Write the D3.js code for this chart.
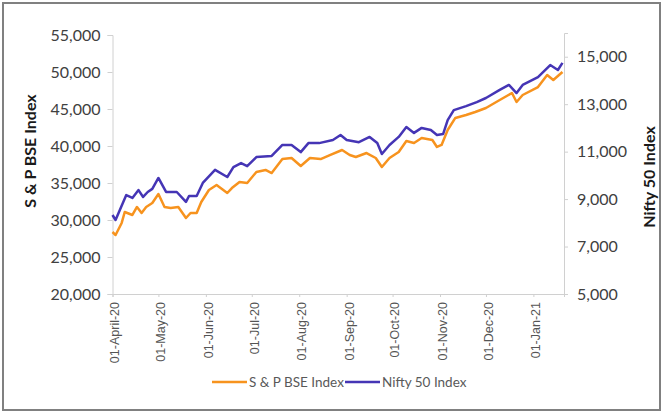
<!DOCTYPE html>
<html>
<head>
<meta charset="utf-8">
<script src="https://cdn.jsdelivr.net/npm/d3@7"></script>
<style>
  body { margin: 0; background: #fff; }
  .frame text { font-family: Lato, "Open Sans", sans-serif; }
</style>
</head>
<body>
<div id="vis1"></div>
<script>
const FRAME_HEIGHT = 413;
const FRAME_WIDTH = 663;
const MARGINS = {left: 112.5, right: 99, top: 33, bottom: 119};

const VIS_HEIGHT = FRAME_HEIGHT - MARGINS.top - MARGINS.bottom;
const VIS_WIDTH = FRAME_WIDTH - MARGINS.left - MARGINS.right;

// S & P BSE Index (left axis)
const bseDates = ["2020-04-01","2020-04-03","2020-04-07","2020-04-09","2020-04-14","2020-04-17",
  "2020-04-20","2020-04-23","2020-04-27","2020-05-01","2020-05-05","2020-05-09","2020-05-14",
  "2020-05-19","2020-05-22","2020-05-26","2020-05-29","2020-06-03","2020-06-08","2020-06-15",
  "2020-06-18","2020-06-23","2020-06-28","2020-07-04","2020-07-10","2020-07-14","2020-07-21",
  "2020-07-27","2020-08-02","2020-08-08","2020-08-15","2020-08-21","2020-08-29","2020-09-03",
  "2020-09-07","2020-09-14","2020-09-20","2020-09-24","2020-09-29","2020-10-05","2020-10-10",
  "2020-10-15","2020-10-20","2020-10-27","2020-10-30","2020-11-02","2020-11-06","2020-11-11",
  "2020-11-18","2020-11-24","2020-12-01","2020-12-10","2020-12-18","2020-12-21","2020-12-25",
  "2021-01-04","2021-01-10","2021-01-14","2021-01-20"];
const bseValues = [28380,27970,29600,31080,30680,31760,
  30950,31760,32300,33510,31760,31620,31760,
  30270,30950,30950,32430,34060,34730,33650,
  34320,35140,35000,36490,36760,36350,38240,
  38380,37300,38380,38240,38780,39460,38780,
  38510,39050,38380,37160,38380,39190,40680,
  40410,41080,40810,39870,40140,42160,43790,
  44190,44600,45140,46220,47160,45950,46890,
  47970,49600,48920,50000];

// Nifty 50 Index (right axis)
const niftyDates = ["2020-04-01","2020-04-03","2020-04-10","2020-04-14","2020-04-18","2020-04-21",
  "2020-04-24","2020-04-27","2020-05-01","2020-05-06","2020-05-13","2020-05-19","2020-05-21",
  "2020-05-26","2020-05-30","2020-06-07","2020-06-15","2020-06-19","2020-06-24","2020-06-28",
  "2020-07-04","2020-07-14","2020-07-21","2020-07-27","2020-08-02","2020-08-07","2020-08-14",
  "2020-08-23","2020-08-28","2020-09-01","2020-09-09","2020-09-16","2020-09-21","2020-09-24",
  "2020-09-29","2020-10-05","2020-10-10","2020-10-15","2020-10-20","2020-10-26","2020-10-30",
  "2020-11-03","2020-11-06","2020-11-10","2020-11-18","2020-11-25","2020-12-01","2020-12-10",
  "2020-12-16","2020-12-21","2020-12-25","2021-01-04","2021-01-12","2021-01-17","2021-01-20"];
const niftyValues = [8330,8120,9170,9050,9380,9090,
  9300,9430,9890,9300,9300,8880,9130,
  9130,9680,10230,9930,10350,10520,10390,
  10770,10820,11280,11280,10980,11360,11360,
  11490,11700,11490,11400,11620,11360,10900,
  11280,11620,12040,11790,12000,11910,11700,
  11740,12330,12750,12920,13090,13260,13600,
  13810,13470,13810,14140,14650,14440,14740];

const xTickDates = ["2020-04-01","2020-05-01","2020-06-01","2020-07-01","2020-08-01",
  "2020-09-01","2020-10-01","2020-11-01","2020-12-01","2021-01-01"];
const xTickLabels = ["01-April-20","01-May-20","01-Jun-20","01-Jul-20","01-Aug-20",
  "01-Sep-20","01-Oct-20","01-Nov-20","01-Dec-20","01-Jan-21"];
const leftTicks = [20000,25000,30000,35000,40000,45000,50000,55000];
const rightTicks = [5000,7000,9000,11000,13000,15000];

const seriesNames = ["S & P BSE Index", "Nifty 50 Index"];
const COLORS = ["#F7931E", "#4535B5"];
const AXIS_GREY = "#D0D0D0";

const parse = d3.timeParse("%Y-%m-%d");

const FRAME = d3.select("#vis1")
    .append("svg")
    .attr("height", FRAME_HEIGHT)
    .attr("width", FRAME_WIDTH)
    .attr("class", "frame");

// outer border
FRAME.append("rect")
    .attr("x", 3).attr("y", 3)
    .attr("width", FRAME_WIDTH - 6).attr("height", FRAME_HEIGHT - 6)
    .attr("fill", "none")
    .attr("stroke", "#808080")
    .attr("stroke-width", 2);

const X_SCALE = d3.scaleTime()
    .domain([parse("2020-04-01"), parse("2021-01-21")])
    .range([MARGINS.left, MARGINS.left + VIS_WIDTH]);

const Y_LEFT = d3.scaleLinear()
    .domain([20000, 55000])
    .range([MARGINS.top + VIS_HEIGHT, 35]);

const Y_RIGHT = d3.scaleLinear()
    .domain([5000, 16000])
    .range([MARGINS.top + VIS_HEIGHT, MARGINS.top]);

// axes
const fmt = d3.format(",");

const leftAxis = FRAME.append("g")
    .attr("transform", "translate(" + MARGINS.left + ",0)")
    .call(d3.axisLeft(Y_LEFT).tickValues(leftTicks).tickFormat(fmt)
        .tickSize(5).tickPadding(7));

const rightAxis = FRAME.append("g")
    .attr("transform", "translate(" + (MARGINS.left + VIS_WIDTH) + ",0)")
    .call(d3.axisRight(Y_RIGHT).tickValues(rightTicks).tickFormat(fmt)
        .tickSize(4).tickPadding(9));

const bottomAxis = FRAME.append("g")
    .attr("transform", "translate(0," + (MARGINS.top + VIS_HEIGHT) + ")")
    .call(d3.axisBottom(X_SCALE)
        .tickValues(xTickDates.map(parse))
        .tickFormat((d, i) => xTickLabels[i])
        .tickSize(3));

[leftAxis, rightAxis, bottomAxis].forEach((g) => {
    g.select(".domain").attr("stroke", AXIS_GREY);
    g.selectAll(".tick line").attr("stroke", AXIS_GREY);
});

leftAxis.selectAll("text").attr("font-size", 16).attr("fill", "#404040")
    .style("font-family", "Lato, sans-serif");
rightAxis.selectAll("text").attr("font-size", 16).attr("fill", "#404040")
    .style("font-family", "Lato, sans-serif");

bottomAxis.selectAll("text")
    .attr("transform", "rotate(-90)")
    .attr("text-anchor", "end")
    .attr("x", -8)
    .attr("y", 2)
    .attr("dy", "0.35em")
    .attr("font-size", 12.5)
    .attr("fill", "#555")
    .style("font-family", "'Liberation Sans', Arial, sans-serif");

// axis titles
FRAME.append("text")
    .attr("transform", "translate(36,151) rotate(-90)")
    .attr("text-anchor", "middle")
    .attr("font-size", 16)
    .attr("font-weight", "bold")
    .attr("fill", "#1a1a1a")
    .text("S & P BSE Index");

FRAME.append("text")
    .attr("transform", "translate(655,177) rotate(-90)")
    .attr("text-anchor", "middle")
    .attr("font-size", 16)
    .attr("font-weight", "bold")
    .attr("fill", "#1a1a1a")
    .text("Nifty 50 Index");

// lines
const bseData = bseDates.map((d, i) => ({date: parse(d), value: bseValues[i]}));
const niftyData = niftyDates.map((d, i) => ({date: parse(d), value: niftyValues[i]}));

const lineLeft = d3.line()
    .x((d) => X_SCALE(d.date))
    .y((d) => Y_LEFT(d.value));

const lineRight = d3.line()
    .x((d) => X_SCALE(d.date))
    .y((d) => Y_RIGHT(d.value));

FRAME.append("path")
    .datum(bseData)
    .attr("d", lineLeft)
    .attr("fill", "none")
    .attr("stroke", COLORS[0])
    .attr("stroke-width", 2.5)
    .attr("stroke-linejoin", "round");

FRAME.append("path")
    .datum(niftyData)
    .attr("d", lineRight)
    .attr("fill", "none")
    .attr("stroke", COLORS[1])
    .attr("stroke-width", 2.5)
    .attr("stroke-linejoin", "round");

// legend
const legendX = [212, 345];
const legend = FRAME.append("g");
seriesNames.forEach((name, i) => {
    legend.append("line")
        .attr("x1", legendX[i]).attr("x2", legendX[i] + 35)
        .attr("y1", 382).attr("y2", 382)
        .attr("stroke", COLORS[i])
        .attr("stroke-width", 2.5);
    legend.append("text")
        .attr("x", legendX[i] + 37)
        .attr("y", 382)
        .attr("dy", "0.35em")
        .attr("font-size", 13.5)
        .attr("fill", "#595959")
        .text(name);
});
</script>
</body>
</html>
